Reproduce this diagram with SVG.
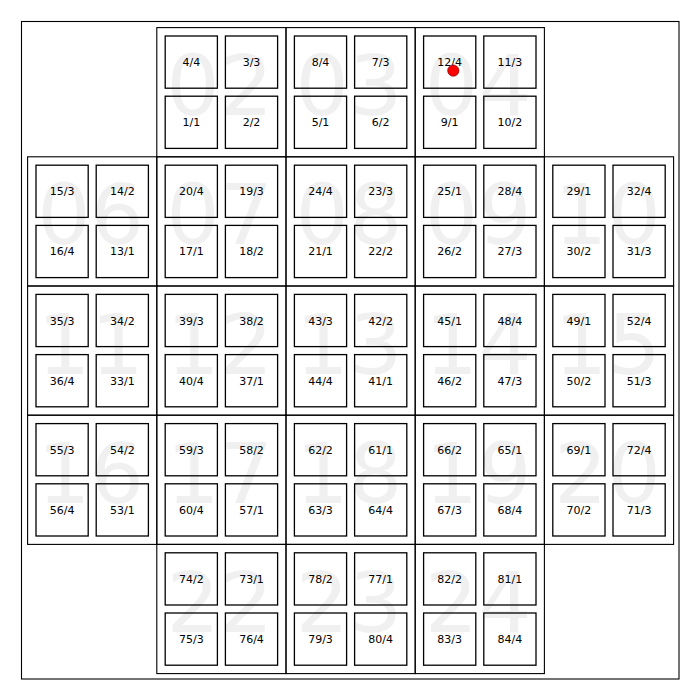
<svg xmlns="http://www.w3.org/2000/svg" width="700" height="700" viewBox="0 0 700 700">
<defs>
<style>
.blk{fill:none;stroke:#000;stroke-width:1.1}
.sq{fill:none;stroke:#000;stroke-width:1.3}
.big{font-family:"DejaVu Sans",sans-serif;font-size:84px;fill:#000;fill-opacity:0.06;text-anchor:middle}
.lb{font-family:"DejaVu Sans",sans-serif;font-size:11px;fill:#000;text-anchor:middle}
</style>
<g id="tpl">
<rect class="blk" x="0" y="0" width="129.2" height="129.2"/>
<rect class="sq" x="8.4" y="8.4" width="52.2" height="52.2"/>
<rect class="sq" x="68.6" y="8.4" width="52.2" height="52.2"/>
<rect class="sq" x="8.4" y="68.6" width="52.2" height="52.2"/>
<rect class="sq" x="68.6" y="68.6" width="52.2" height="52.2"/>
</g>
</defs>
<rect x="0" y="0" width="700" height="700" fill="#fff"/>
<rect x="21.5" y="21.5" width="657.5" height="657.5" fill="none" stroke="#000" stroke-width="1.1"/>

<g id="b02" transform="translate(156.8,27.6)"><text class="big" x="63" y="87.5">02</text><use href="#tpl"/><text class="lb" x="34.5" y="38.5">4/4</text><text class="lb" x="94.7" y="38.5">3/3</text><text class="lb" x="34.5" y="98.7">1/1</text><text class="lb" x="94.7" y="98.7">2/2</text></g>
<g id="b03" transform="translate(286,27.6)"><text class="big" x="63" y="87.5">03</text><use href="#tpl"/><text class="lb" x="34.5" y="38.5">8/4</text><text class="lb" x="94.7" y="38.5">7/3</text><text class="lb" x="34.5" y="98.7">5/1</text><text class="lb" x="94.7" y="98.7">6/2</text></g>
<g id="b04" transform="translate(415.2,27.6)"><text class="big" x="63" y="87.5">04</text><use href="#tpl"/><text class="lb" x="34.5" y="38.5">12/4</text><text class="lb" x="94.7" y="38.5">11/3</text><text class="lb" x="34.5" y="98.7">9/1</text><text class="lb" x="94.7" y="98.7">10/2</text></g>

<g id="b06" transform="translate(27.6,156.8)"><text class="big" x="63" y="87.5">06</text><use href="#tpl"/><text class="lb" x="34.5" y="38.5">15/3</text><text class="lb" x="94.7" y="38.5">14/2</text><text class="lb" x="34.5" y="98.7">16/4</text><text class="lb" x="94.7" y="98.7">13/1</text></g>
<g id="b07" transform="translate(156.8,156.8)"><text class="big" x="63" y="87.5">07</text><use href="#tpl"/><text class="lb" x="34.5" y="38.5">20/4</text><text class="lb" x="94.7" y="38.5">19/3</text><text class="lb" x="34.5" y="98.7">17/1</text><text class="lb" x="94.7" y="98.7">18/2</text></g>
<g id="b08" transform="translate(286,156.8)"><text class="big" x="63" y="87.5">08</text><use href="#tpl"/><text class="lb" x="34.5" y="38.5">24/4</text><text class="lb" x="94.7" y="38.5">23/3</text><text class="lb" x="34.5" y="98.7">21/1</text><text class="lb" x="94.7" y="98.7">22/2</text></g>
<g id="b09" transform="translate(415.2,156.8)"><text class="big" x="63" y="87.5">09</text><use href="#tpl"/><text class="lb" x="34.5" y="38.5">25/1</text><text class="lb" x="94.7" y="38.5">28/4</text><text class="lb" x="34.5" y="98.7">26/2</text><text class="lb" x="94.7" y="98.7">27/3</text></g>
<g id="b10" transform="translate(544.4,156.8)"><text class="big" x="63" y="87.5">10</text><use href="#tpl"/><text class="lb" x="34.5" y="38.5">29/1</text><text class="lb" x="94.7" y="38.5">32/4</text><text class="lb" x="34.5" y="98.7">30/2</text><text class="lb" x="94.7" y="98.7">31/3</text></g>

<g id="b11" transform="translate(27.6,286)"><text class="big" x="63" y="87.5">11</text><use href="#tpl"/><text class="lb" x="34.5" y="38.5">35/3</text><text class="lb" x="94.7" y="38.5">34/2</text><text class="lb" x="34.5" y="98.7">36/4</text><text class="lb" x="94.7" y="98.7">33/1</text></g>
<g id="b12" transform="translate(156.8,286)"><text class="big" x="63" y="87.5">12</text><use href="#tpl"/><text class="lb" x="34.5" y="38.5">39/3</text><text class="lb" x="94.7" y="38.5">38/2</text><text class="lb" x="34.5" y="98.7">40/4</text><text class="lb" x="94.7" y="98.7">37/1</text></g>
<g id="b13" transform="translate(286,286)"><text class="big" x="63" y="87.5">13</text><use href="#tpl"/><text class="lb" x="34.5" y="38.5">43/3</text><text class="lb" x="94.7" y="38.5">42/2</text><text class="lb" x="34.5" y="98.7">44/4</text><text class="lb" x="94.7" y="98.7">41/1</text></g>
<g id="b14" transform="translate(415.2,286)"><text class="big" x="63" y="87.5">14</text><use href="#tpl"/><text class="lb" x="34.5" y="38.5">45/1</text><text class="lb" x="94.7" y="38.5">48/4</text><text class="lb" x="34.5" y="98.7">46/2</text><text class="lb" x="94.7" y="98.7">47/3</text></g>
<g id="b15" transform="translate(544.4,286)"><text class="big" x="63" y="87.5">15</text><use href="#tpl"/><text class="lb" x="34.5" y="38.5">49/1</text><text class="lb" x="94.7" y="38.5">52/4</text><text class="lb" x="34.5" y="98.7">50/2</text><text class="lb" x="94.7" y="98.7">51/3</text></g>

<g id="b16" transform="translate(27.6,415.2)"><text class="big" x="63" y="87.5">16</text><use href="#tpl"/><text class="lb" x="34.5" y="38.5">55/3</text><text class="lb" x="94.7" y="38.5">54/2</text><text class="lb" x="34.5" y="98.7">56/4</text><text class="lb" x="94.7" y="98.7">53/1</text></g>
<g id="b17" transform="translate(156.8,415.2)"><text class="big" x="63" y="87.5">17</text><use href="#tpl"/><text class="lb" x="34.5" y="38.5">59/3</text><text class="lb" x="94.7" y="38.5">58/2</text><text class="lb" x="34.5" y="98.7">60/4</text><text class="lb" x="94.7" y="98.7">57/1</text></g>
<g id="b18" transform="translate(286,415.2)"><text class="big" x="63" y="87.5">18</text><use href="#tpl"/><text class="lb" x="34.5" y="38.5">62/2</text><text class="lb" x="94.7" y="38.5">61/1</text><text class="lb" x="34.5" y="98.7">63/3</text><text class="lb" x="94.7" y="98.7">64/4</text></g>
<g id="b19" transform="translate(415.2,415.2)"><text class="big" x="63" y="87.5">19</text><use href="#tpl"/><text class="lb" x="34.5" y="38.5">66/2</text><text class="lb" x="94.7" y="38.5">65/1</text><text class="lb" x="34.5" y="98.7">67/3</text><text class="lb" x="94.7" y="98.7">68/4</text></g>
<g id="b20" transform="translate(544.4,415.2)"><text class="big" x="63" y="87.5">20</text><use href="#tpl"/><text class="lb" x="34.5" y="38.5">69/1</text><text class="lb" x="94.7" y="38.5">72/4</text><text class="lb" x="34.5" y="98.7">70/2</text><text class="lb" x="94.7" y="98.7">71/3</text></g>

<g id="b22" transform="translate(156.8,544.4)"><text class="big" x="63" y="87.5">22</text><use href="#tpl"/><text class="lb" x="34.5" y="38.5">74/2</text><text class="lb" x="94.7" y="38.5">73/1</text><text class="lb" x="34.5" y="98.7">75/3</text><text class="lb" x="94.7" y="98.7">76/4</text></g>
<g id="b23" transform="translate(286,544.4)"><text class="big" x="63" y="87.5">23</text><use href="#tpl"/><text class="lb" x="34.5" y="38.5">78/2</text><text class="lb" x="94.7" y="38.5">77/1</text><text class="lb" x="34.5" y="98.7">79/3</text><text class="lb" x="94.7" y="98.7">80/4</text></g>
<g id="b24" transform="translate(415.2,544.4)"><text class="big" x="63" y="87.5">24</text><use href="#tpl"/><text class="lb" x="34.5" y="38.5">82/2</text><text class="lb" x="94.7" y="38.5">81/1</text><text class="lb" x="34.5" y="98.7">83/3</text><text class="lb" x="94.7" y="98.7">84/4</text></g>

<g id="marker"><circle cx="453.3" cy="70.6" r="5.6" fill="#ff0000" stroke="#8b0000" stroke-width="0.8"/></g>
<g id="connectors"/>
</svg>
